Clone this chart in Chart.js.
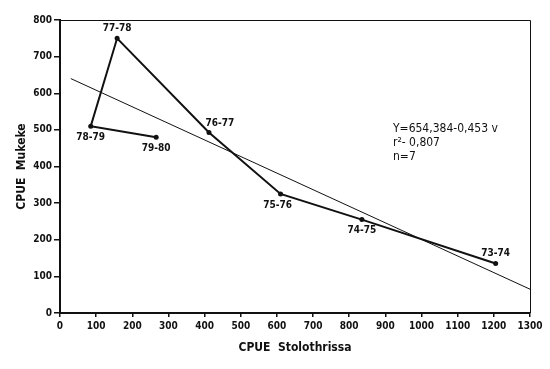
<!DOCTYPE html>
<html>
<head>
<meta charset="utf-8">
<script src="https://cdn.jsdelivr.net/npm/chart.js@4/dist/chart.umd.min.js"></script>
<style>
  html, body { margin: 0; padding: 0; background: #fff; }
  #wrap { width: 550px; height: 369px; }
</style>
</head>
<body>
<div id="wrap"><canvas id="c" width="550" height="369"></canvas></div>
<script>
// seasons
const seasons = ['73-74', '74-75', '75-76', '76-77', '77-78', '78-79', '79-80'];
const stolothrissa = [1205, 835, 610, 412, 158, 85, 266];
const mukeke = [135, 255, 325, 493, 750, 510, 480];
// where each season label sits relative to its point
const labelSide = ['above', 'below', 'below', 'aboveRight', 'above', 'below', 'below'];

// regression line end points as drawn
const fitX = [30, 1300];
const fitY = [640, 65];

const xTicks = [0, 100, 200, 300, 400, 500, 600, 700, 800, 900, 1000, 1100, 1200, 1300];
const yTicks = [0, 100, 200, 300, 400, 500, 600, 700, 800];

const statsText = ['Y=654,384-0,453 v', 'r\u00B2- 0,807', 'n=7'];

const FONT = '"DejaVu Sans Condensed", "Liberation Sans Narrow", "DejaVu Sans", sans-serif';

// frame + season labels + regression text
const extras = {
  id: 'extras',
  afterDatasetsDraw(chart) {
    const ctx = chart.ctx;
    const a = chart.chartArea;
    const xs = chart.scales.x, ys = chart.scales.y;
    ctx.save();
    ctx.strokeStyle = '#111';
    ctx.lineWidth = 1;
    ctx.beginPath();
    ctx.moveTo(a.left, a.top + 0.5);
    ctx.lineTo(a.right + 0.5, a.top + 0.5);
    ctx.lineTo(a.right + 0.5, a.bottom);
    ctx.stroke();

    ctx.fillStyle = '#111';
    ctx.font = 'bold 10px ' + FONT;
    ctx.textAlign = 'center';
    ctx.textBaseline = 'middle';
    seasons.forEach((s, i) => {
      const px = xs.getPixelForValue(stolothrissa[i]);
      const py = ys.getPixelForValue(mukeke[i]);
      let dx = 0, dy = 11;
      if (labelSide[i] === 'above') dy = -10;
      if (labelSide[i] === 'aboveRight') { dx = 11; dy = -9; }
      if (i === 2) dx = -3;
      ctx.fillText(s, px + dx, py + dy);
    });

    ctx.textAlign = 'left';
    ctx.font = '12px ' + FONT;
    const tx = 393;
    const ty = ys.getPixelForValue(504);
    statsText.forEach((t, i) => ctx.fillText(t, tx, ty + i * 14));
    ctx.restore();
  }
};

new Chart(document.getElementById('c'), {
  type: 'scatter',
  data: {
    datasets: [
      {
        data: stolothrissa.map((x, i) => ({ x: x, y: mukeke[i] })),
        showLine: true,
        borderColor: '#111',
        backgroundColor: '#111',
        borderWidth: 2,
        pointRadius: 2.5,
        pointBorderWidth: 0
      },
      {
        data: fitX.map((x, i) => ({ x: x, y: fitY[i] })),
        showLine: true,
        borderColor: '#111',
        borderWidth: 1,
        pointRadius: 0
      }
    ]
  },
  options: {
    responsive: false,
    animation: false,
    layout: { padding: { top: 20, right: 20, left: 0, bottom: 0 } },
    plugins: { legend: { display: false }, tooltip: { enabled: false } },
    scales: {
      x: {
        type: 'linear',
        min: 0, max: 1300,
        afterFit: s => { s.height = 56; },
        afterBuildTicks: s => { s.ticks = xTicks.map(v => ({ value: v })); },
        grid: { drawOnChartArea: false, tickLength: 4, color: '#111', lineWidth: 1.5 },
        border: { color: '#111', width: 2 },
        ticks: { color: '#111', font: { family: FONT, size: 10, weight: 'bold' }, padding: 3, maxRotation: 0, callback: v => String(v) },
        title: { display: true, text: 'CPUE  Stolothrissa', color: '#111', font: { family: FONT, size: 12, weight: 'bold' }, padding: { top: 0, bottom: 14 } }
      },
      y: {
        type: 'linear',
        min: 0, max: 800,
        afterFit: s => { s.width = 60; },
        afterBuildTicks: s => { s.ticks = yTicks.map(v => ({ value: v })); },
        grid: { drawOnChartArea: false, tickLength: 6, color: '#111', lineWidth: 1.5 },
        border: { color: '#111', width: 2 },
        ticks: { color: '#111', font: { family: FONT, size: 10, weight: 'bold' }, padding: 2, callback: v => String(v) },
        title: { display: true, text: 'CPUE  Mukeke', color: '#111', font: { family: FONT, size: 12, weight: 'bold' }, padding: { top: 15, bottom: 0 } }
      }
    }
  },
  plugins: [extras]
});
</script>
</body>
</html>
